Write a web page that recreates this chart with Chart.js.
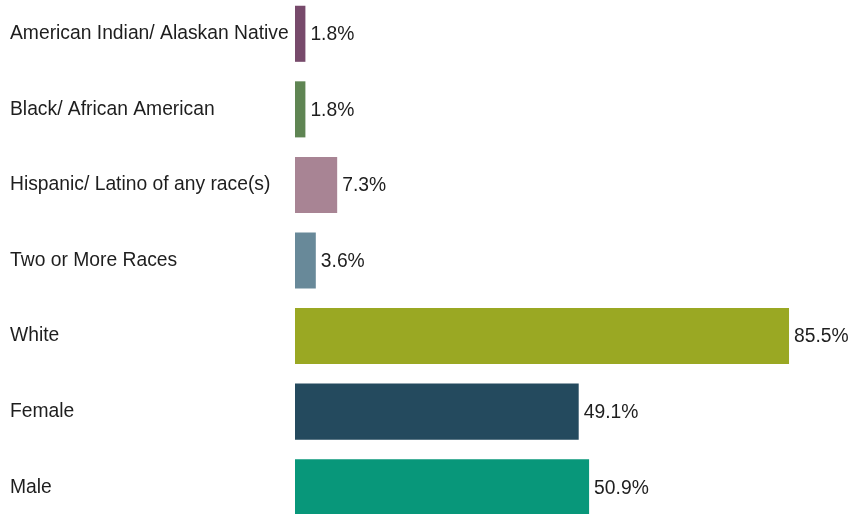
<!DOCTYPE html>
<html>
<head>
<meta charset="utf-8">
<script src="https://cdn.jsdelivr.net/npm/chart.js@4/dist/chart.umd.min.js"></script>
<style>
  html, body { margin: 0; padding: 0; background: #fff; overflow: hidden; }
  #frame { position: relative; width: 852px; height: 514px; overflow: hidden; }
  #wrap { position: absolute; left: 0; top: -4px; width: 852px; height: 529px; }
</style>
</head>
<body>
<div id="frame"><div id="wrap"><canvas id="chart"></canvas></div></div>
<script>
const categories = [
  "American Indian/ Alaskan Native",
  "Black/ African American",
  "Hispanic/ Latino of any race(s)",
  "Two or More Races",
  "White",
  "Female",
  "Male"
];
const values = [1.8, 1.8, 7.3, 3.6, 85.5, 49.1, 50.9];
const barColors = ["#774a6b", "#5f8553", "#a88494", "#688999", "#9aa823", "#244a5e", "#08977a"];

const labelFont = "'Liberation Sans', Arial, sans-serif";

// value labels at the end of each bar
const valueLabels = {
  id: "valueLabels",
  afterDatasetsDraw(chart) {
    const ctx = chart.ctx;
    const meta = chart.getDatasetMeta(0);
    ctx.save();
    ctx.font = "19.3px " + labelFont;
    ctx.fillStyle = "#1e1e1e";
    ctx.textAlign = "left";
    ctx.textBaseline = "middle";
    meta.data.forEach((bar, i) => {
      ctx.fillText(values[i].toFixed(1) + "%", bar.x + 5, bar.y + 1);
    });
    ctx.restore();
  }
};

new Chart(document.getElementById("chart"), {
  type: "bar",
  data: {
    labels: categories,
    datasets: [{
      data: values,
      backgroundColor: barColors,
      borderWidth: 0,
      categoryPercentage: 1,
      barPercentage: 0.742
    }]
  },
  options: {
    indexAxis: "y",
    responsive: true,
    maintainAspectRatio: false,
    animation: false,
    layout: { padding: { left: 10, right: 0, top: 0, bottom: 0 } },
    plugins: { legend: { display: false }, tooltip: { enabled: false } },
    scales: {
      x: {
        display: false,
        min: 0,
        max: 96.4
      },
      y: {
        grid: { display: false, drawTicks: false },
        border: { display: false },
        ticks: {
          crossAlign: "far",
          color: "#1e1e1e",
          font: { family: labelFont, size: 19.3 }
        },
        afterFit(scale) {
          scale.width = 285;
          scale.paddingTop = 0;
          scale.paddingBottom = 0;
        }
      }
    }
  },
  plugins: [valueLabels]
});
</script>
</body>
</html>
